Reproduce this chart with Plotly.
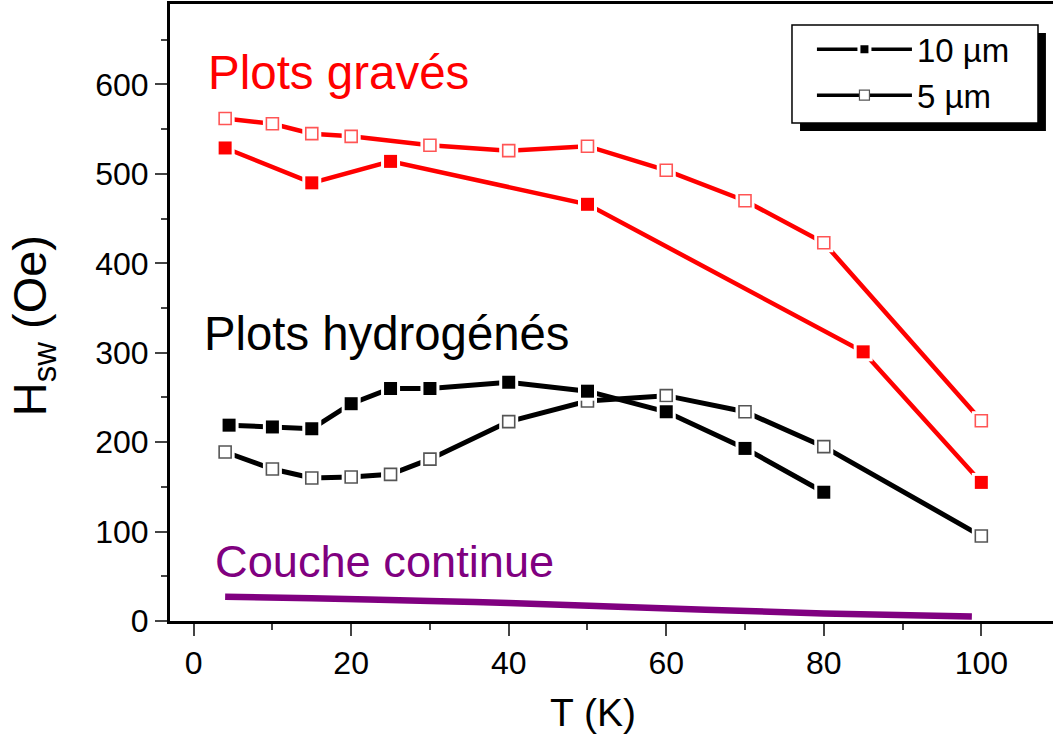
import plotly.graph_objects as go

# ---- data ----
T_red_10 = [4, 15, 25, 50, 85, 100]
H_red_10 = [529, 490, 514, 466, 301, 155]

T_red_5 = [4, 10, 15, 20, 30, 40, 50, 60, 70, 80, 100]
H_red_5 = [562, 556, 545, 542, 532, 526, 531, 504, 470, 423, 224]

T_blk_10 = [4.5, 10, 15, 20, 25, 30, 40, 50, 60, 70, 80]
H_blk_10 = [219, 217, 215, 243, 260, 260, 267, 257, 234, 193, 144]

T_blk_5 = [4, 10, 15, 20, 25, 30, 40, 50, 60, 70, 80, 100]
H_blk_5 = [189, 170, 160, 161, 164, 181, 223, 246, 252, 234, 195, 95]

T_cont = [4, 15, 30, 40, 52, 65, 80, 98.8]
H_cont = [27, 25.5, 22.5, 20, 16.5, 12.5, 8.5, 5]

legend_labels = ["10 µm", "5 µm"]
x_title = "T (K)"
y_title = "H<sub>sw</sub> (Oe)"

RED = "#FF0000"
PURPLE = "#800080"
FONT = "Liberation Sans, Arial, sans-serif"

fig = go.Figure()


def add_series(x, y, color, width, filled, outline):
    # connecting line
    fig.add_trace(go.Scatter(x=x, y=y, mode="lines", line=dict(color=color, width=width),
                             showlegend=False, hoverinfo="skip"))
    # white gap around markers (Origin style)
    fig.add_trace(go.Scatter(x=x, y=y, mode="markers",
                             marker=dict(symbol="square", size=19, color="white", line=dict(width=0)),
                             showlegend=False, hoverinfo="skip"))
    # markers
    if filled:
        mk = dict(symbol="square", size=13, color=color, line=dict(width=0))
    else:
        mk = dict(symbol="square", size=12, color="white", line=dict(width=1.6, color=outline))
    fig.add_trace(go.Scatter(x=x, y=y, mode="markers", marker=mk, showlegend=False))


fig.add_trace(go.Scatter(x=T_cont, y=H_cont, mode="lines",
                         line=dict(color=PURPLE, width=6.5, shape="spline"),
                         showlegend=False))

add_series(T_red_5, H_red_5, RED, 4.5, False, "#FF5555")
add_series(T_red_10, H_red_10, RED, 4.5, True, RED)
add_series(T_blk_5, H_blk_5, "black", 5, False, "#555555")
add_series(T_blk_10, H_blk_10, "black", 5, True, "black")

# legend entries
fig.add_trace(go.Scatter(x=[None], y=[None], mode="lines+markers", name=legend_labels[0],
                         line=dict(color="black", width=3.5),
                         marker=dict(symbol="square", size=11, color="black",
                                     line=dict(width=3, color="white"))))
fig.add_trace(go.Scatter(x=[None], y=[None], mode="lines+markers", name=legend_labels[1],
                         line=dict(color="black", width=3.5),
                         marker=dict(symbol="square", size=10, color="white",
                                     line=dict(width=1.2, color="#555555"))))

# text labels
fig.add_annotation(x=1.6, y=613, text="Plots gravés", showarrow=False, xanchor="left",
                   yanchor="middle", font=dict(family=FONT, size=47.5, color=RED))
fig.add_annotation(x=1.0, y=321, text="Plots hydrogénés", showarrow=False, xanchor="left",
                   yanchor="middle", font=dict(family=FONT, size=47.3, color="black"))
fig.add_annotation(x=2.5, y=67, text="Couche continue", showarrow=False, xanchor="left",
                   yanchor="middle", font=dict(family=FONT, size=45.2, color=PURPLE))

# axis titles
fig.add_annotation(xref="paper", yref="paper", x=-0.155, y=0.478, text=y_title, textangle=-90,
                   showarrow=False, xanchor="center", yanchor="middle",
                   font=dict(family=FONT, size=47, color="black"))
fig.add_annotation(xref="paper", yref="paper", x=0.479, y=-0.149, text=x_title,
                   showarrow=False, xanchor="center", yanchor="middle",
                   font=dict(family=FONT, size=39, color="black"))

# legend shadow and frame
fig.add_shape(type="rect", xref="paper", yref="paper", x0=0.7135, x1=0.992, y0=0.794, y1=0.953,
              fillcolor="black", line=dict(width=0), layer="above")
fig.add_shape(type="rect", xref="paper", yref="paper", x0=0.7044, x1=0.983, y0=0.807, y1=0.966,
              fillcolor="white", line=dict(width=1.5, color="black"), layer="above")

fig.update_layout(
    width=1053, height=735,
    margin=dict(l=170, r=0, t=4, b=114),
    paper_bgcolor="white", plot_bgcolor="white",
    font=dict(family=FONT, size=32, color="black"),
    legend=dict(x=0.727, y=0.972, xanchor="left", yanchor="top",
                bgcolor="rgba(0,0,0,0)", borderwidth=0,
                font=dict(family=FONT, size=33), itemwidth=95,
                tracegroupgap=0),
)

fig.update_xaxes(
    range=[-3, 109.1], tickvals=[0, 20, 40, 60, 80, 100], ticks="outside", ticklen=12, tickwidth=2,
    minor=dict(tickvals=[10, 30, 50, 70, 90], ticks="outside", ticklen=6, tickwidth=2),
    showline=True, linewidth=3, linecolor="black", mirror=True, showgrid=False, zeroline=False,
    tickfont=dict(size=32), automargin=False,
)
fig.update_yaxes(
    range=[0, 690], tickvals=[0, 100, 200, 300, 400, 500, 600], ticks="outside", ticklen=12, tickwidth=2,
    minor=dict(tickvals=[50, 150, 250, 350, 450, 550, 650], ticks="outside", ticklen=6, tickwidth=2),
    showline=True, linewidth=3, linecolor="black", mirror=False, showgrid=False, zeroline=False,
    tickfont=dict(size=32), automargin=False,
)

fig.write_html("out.html", config={"displayModeBar": False},
               post_script="document.body.style.margin='0';")
